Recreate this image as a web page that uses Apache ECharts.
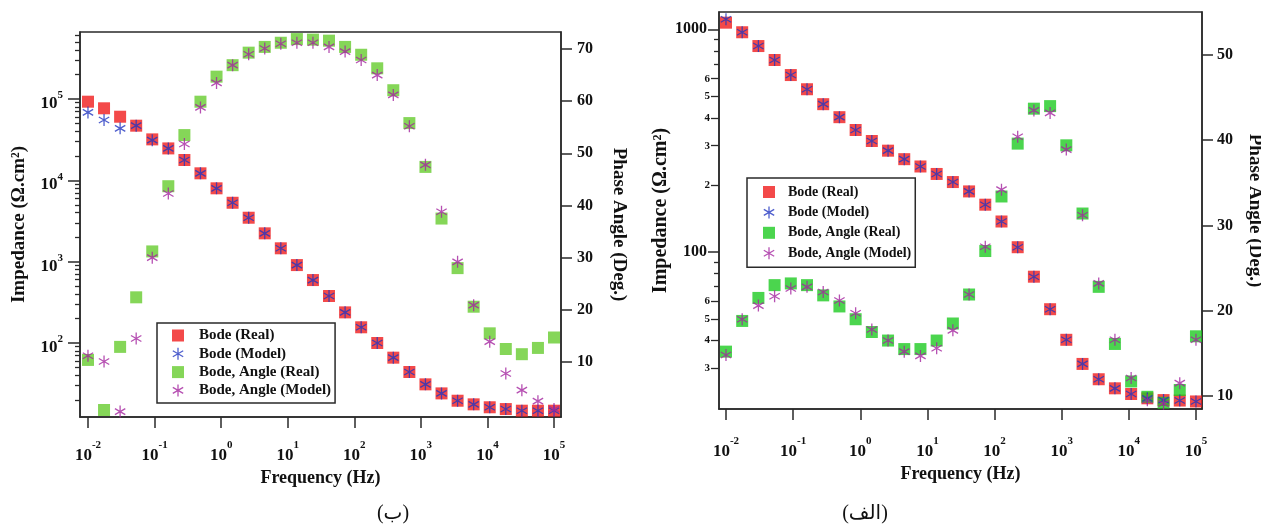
<!DOCTYPE html>
<html><head><meta charset="utf-8">
<script src="https://cdn.jsdelivr.net/npm/echarts@6/dist/echarts.min.js"></script>
<style>html,body{margin:0;padding:0;background:#fff}#c{width:1261px;height:527px}</style>
</head><body><div id="c"></div>
<script>
// ---------- data ----------
const freqs = [0.01, 0.01743, 0.03039, 0.05298, 0.09237, 0.1610, 0.2807, 0.4894, 0.8532, 1.487,
  2.593, 4.520, 7.880, 13.74, 23.95, 41.75, 72.79, 126.9, 221.2, 385.7,
  672.3, 1172, 2043, 3562, 6210, 10826, 18874, 32903, 57362, 100000];

// left chart (ب)
const leftImpReal = [92700, 76900, 60600, 47000, 31900, 24700, 17800, 12200, 7980, 5300,
  3470, 2230, 1460, 908, 594, 378, 238, 156, 100, 66,
  44, 31, 24, 19.5, 17.6, 16.2, 15.4, 14.7, 14.7, 14.7];
const leftImpModel = [68500, 55200, 43600, 47000, 31200, 24700, 17800, 12200, 7980, 5300,
  3470, 2230, 1460, 908, 594, 378, 238, 156, 100, 66,
  44, 31, 24, 19.5, 17.6, 16.2, 15.4, 14.7, 14.7, 14.7];
const leftPhaseReal = [10.4, 0.8, 12.9, 22.4, 31.2, 43.7, 53.5, 59.9, 64.7, 66.9,
  69.3, 70.4, 71.2, 71.9, 71.8, 71.6, 70.4, 68.9, 66.3, 62.1,
  55.8, 47.4, 37.5, 28.0, 20.6, 15.5, 12.5, 11.5, 12.7, 14.7];
const leftPhaseModel = [11.2, 10.1, 0.5, 14.5, 30.0, 42.3, 51.8, 58.8, 63.5, 66.9,
  69.0, 70.1, 71.0, 71.2, 71.2, 70.4, 69.5, 67.9, 65.0, 61.2,
  55.2, 47.8, 38.8, 29.2, 20.9, 13.9, 7.8, 4.6, 2.5, 1.0];

// right chart (الف)
const rightImpReal = [1071, 970, 841, 728, 623, 538, 461, 403, 353, 315,
  285, 261, 242, 224, 206, 187, 163, 137, 105, 77.4,
  55.3, 40.3, 31.4, 26.8, 24.4, 23.0, 22.0, 21.6, 21.5, 21.3];
const rightImpModel = [1110, 970, 841, 728, 623, 538, 461, 403, 353, 315,
  285, 261, 242, 224, 206, 187, 163, 137, 105, 77.4,
  55.3, 40.3, 31.4, 26.8, 24.4, 23.0, 22.0, 21.6, 21.5, 21.3];
const rightPhaseReal = [15.2, 18.8, 21.5, 23.0, 23.2, 23.0, 21.8, 20.5, 19.0, 17.5,
  16.5, 15.5, 15.5, 16.5, 18.5, 21.9, 27.0, 33.4, 39.6, 43.7,
  44.0, 39.4, 31.4, 22.8, 16.1, 11.7, 9.9, 9.2, 10.7, 17.0];
const rightPhaseModel = [14.8, 19.0, 20.6, 21.7, 22.6, 22.8, 22.2, 21.2, 19.7, 17.8,
  16.5, 15.2, 14.7, 15.6, 17.7, 21.9, 27.5, 34.2, 40.4, 43.5,
  43.2, 38.9, 31.2, 23.2, 16.6, 12.1, 9.5, 9.1, 11.5, 16.6];

// tick values
const xTickValues = [0.01, 0.1, 1, 10, 100, 1000, 10000, 100000];
const leftImpMajor = [100, 1000, 10000, 100000];
const leftImpMinor = [20, 30, 40, 50, 60, 70, 80, 90,
  200, 300, 400, 500, 600, 700, 800, 900,
  2000, 3000, 4000, 5000, 6000, 7000, 8000, 9000,
  20000, 30000, 40000, 50000, 60000, 70000, 80000, 90000,
  200000, 300000, 400000, 500000, 600000];
const leftPhaseTicks = [10, 20, 30, 40, 50, 60, 70];
const rightImpMajor = [100, 1000];
const rightImpMid = [30, 40, 50, 60, 200, 300, 400, 500, 600];
const rightImpMinor = [70, 80, 90, 700, 800, 900];
const rightPhaseTicks = [10, 20, 30, 40, 50];

const seriesNames = ['Bode (Real)', 'Bode (Model)', 'Bode, Angle (Real)', 'Bode, Angle (Model)'];

// ---------- style ----------
const FONT = "'Liberation Serif', 'Times New Roman', serif";
const RED = '#f01c1c', BLUE = '#2236c0', GREEN_L = '#66cc2e', GREEN_R = '#1ecb22', PURPLE = '#a4249f';
const STAR = 'path://M0,-1L0,1M-0.866,-0.5L0.866,0.5M-0.866,0.5L0.866,-0.5';
const SQUARE = 'path://M0,0L10,0L10,10L0,10Z';
const AX = '#2a2a2a';

const pairs = arr => freqs.map((f, i) => [f, arr[i]]);
const expFmt = v => '{b|10}{s|' + Math.round(Math.log10(v)) + '}';
const powRich = (big, small, raise) => ({
  b: {fontFamily: FONT, fontWeight: 'bold', fontSize: big, color: '#111'},
  s: {fontFamily: FONT, fontWeight: 'bold', fontSize: small, color: '#111', padding: [0, 0, raise, 0]}
});

function xAxis(gridIndex, min, max, margin, nameGap) {
  return {
    type: 'log', logBase: 10, gridIndex, min, max,
    name: 'Frequency (Hz)', nameLocation: 'middle', nameGap,
    nameTextStyle: {fontFamily: FONT, fontWeight: 'bold', fontSize: 18, color: '#111'},
    axisLine: {show: true, onZero: false, lineStyle: {color: AX, width: 1.5}},
    axisTick: {show: true, inside: false, length: 11, customValues: xTickValues, lineStyle: {color: AX, width: 1.5}},
    axisLabel: {show: true, customValues: xTickValues, margin, formatter: expFmt, rich: powRich(17, 11, 20)},
    splitLine: {show: false}, minorTick: {show: false}, minorSplitLine: {show: false}
  };
}
function tickOnlyAxis(gridIndex, type, min, max, ticks, len, position) {
  return {
    type, gridIndex, min, max, position,
    axisLine: {show: false, onZero: false},
    axisTick: {show: true, inside: false, length: len, customValues: ticks, lineStyle: {color: AX, width: 1.3}},
    axisLabel: {show: false},
    splitLine: {show: false}, minorTick: {show: false}
  };
}
function nameStyle(size) {
  return {fontFamily: FONT, fontWeight: 'bold', fontSize: size, color: '#111'};
}

const option = {
  animation: false,
  backgroundColor: '#fff',
  grid: [
    {left: 80, top: 32, width: 481, height: 385, show: true, borderColor: AX, borderWidth: 1.5, containLabel: false, outerBoundsMode: 'none'},
    {left: 719, top: 12, width: 483, height: 397, show: true, borderColor: AX, borderWidth: 1.5, containLabel: false, outerBoundsMode: 'none'}
  ],
  xAxis: [
    xAxis(0, 0.00759, 127350, 23, 46),
    xAxis(1, 0.00787, 123000, 27, 52)
  ],
  yAxis: [
    // 0: left chart impedance (major)
    {
      type: 'log', logBase: 10, gridIndex: 0, position: 'left', min: 12.3, max: 667000,
      name: 'Impedance (Ω.cm²)', nameLocation: 'middle', nameGap: 51, nameRotate: 90,
      nameTextStyle: nameStyle(19),
      axisLine: {show: true, onZero: false, lineStyle: {color: AX, width: 1.5}},
      axisTick: {show: true, inside: false, length: 12, customValues: leftImpMajor, lineStyle: {color: AX, width: 1.5}},
      axisLabel: {show: true, customValues: leftImpMajor, margin: 17, formatter: expFmt, rich: powRich(17, 11, 16), padding: [9, 0, 0, 0]},
      splitLine: {show: false}, minorTick: {show: false}
    },
    // 1: left chart impedance minor ticks
    tickOnlyAxis(0, 'log', 12.3, 667000, leftImpMinor, 5, 'left'),
    // 2: left chart phase
    {
      type: 'value', gridIndex: 0, position: 'right', min: -0.54, max: 73.26,
      name: 'Phase Angle (Deg.)', nameLocation: 'middle', nameGap: 48, nameRotate: -90,
      nameTextStyle: nameStyle(19),
      axisLine: {show: true, onZero: false, lineStyle: {color: AX, width: 1.5}},
      axisTick: {show: true, inside: false, length: 11, customValues: leftPhaseTicks, lineStyle: {color: AX, width: 1.5}},
      axisLabel: {show: true, customValues: leftPhaseTicks, margin: 16, fontFamily: FONT, fontWeight: 'bold', fontSize: 16, color: '#111'},
      splitLine: {show: false}
    },
    // 3: right chart impedance major
    {
      type: 'log', logBase: 10, gridIndex: 1, position: 'left', min: 19.7, max: 1196,
      name: 'Impedance (Ω.cm²)', nameLocation: 'middle', nameGap: 46, nameRotate: 90,
      nameTextStyle: nameStyle(20),
      axisLine: {show: true, onZero: false, lineStyle: {color: AX, width: 1.5}},
      axisTick: {show: true, inside: false, length: 11, customValues: rightImpMajor, lineStyle: {color: AX, width: 1.5}},
      axisLabel: {show: true, customValues: rightImpMajor, margin: 12, formatter: v => String(Math.round(v)),
        fontFamily: FONT, fontWeight: 'bold', fontSize: 16, color: '#111'},
      splitLine: {show: false}, minorTick: {show: false}
    },
    // 4: right chart impedance mid ticks with digit labels
    {
      type: 'log', logBase: 10, gridIndex: 1, position: 'left', min: 19.7, max: 1196,
      axisLine: {show: false, onZero: false},
      axisTick: {show: true, inside: false, length: 8, customValues: rightImpMid, lineStyle: {color: AX, width: 1.3}},
      axisLabel: {show: true, customValues: rightImpMid, margin: 9,
        formatter: v => String(Math.round(v / Math.pow(10, Math.floor(Math.log10(v) + 1e-9)))),
        fontFamily: FONT, fontWeight: 'bold', fontSize: 11, color: '#111'},
      splitLine: {show: false}, minorTick: {show: false}
    },
    // 5: right chart impedance minor ticks
    tickOnlyAxis(1, 'log', 19.7, 1196, rightImpMinor, 5, 'left'),
    // 6: right chart phase
    {
      type: 'value', gridIndex: 1, position: 'right', min: 8.47, max: 55.04,
      name: 'Phase Angle (Deg.)', nameLocation: 'middle', nameGap: 43, nameRotate: -90,
      nameTextStyle: nameStyle(19),
      axisLine: {show: true, onZero: false, lineStyle: {color: AX, width: 1.5}},
      axisTick: {show: true, inside: false, length: 11, customValues: rightPhaseTicks, lineStyle: {color: AX, width: 1.5}},
      axisLabel: {show: true, customValues: rightPhaseTicks, margin: 15, fontFamily: FONT, fontWeight: 'bold', fontSize: 16, color: '#111'},
      splitLine: {show: false}
    }
  ],
  legend: [
    {
      left: 157, top: 323, orient: 'vertical', padding: [5, 4, 5, 15],
      itemWidth: 32, itemHeight: 12, itemGap: 3.3, symbolKeepAspect: true,
      borderColor: AX, borderWidth: 1.5, selectedMode: false,
      textStyle: {fontFamily: FONT, fontWeight: 'bold', fontSize: 15, color: '#111'},
      data: [
        {name: seriesNames[0], icon: SQUARE, itemStyle: {color: RED}},
        {name: seriesNames[1], icon: STAR, itemStyle: {color: BLUE, borderColor: BLUE, borderWidth: 1.3}},
        {name: seriesNames[2], icon: SQUARE, itemStyle: {color: GREEN_L}},
        {name: seriesNames[3], icon: STAR, itemStyle: {color: PURPLE, borderColor: PURPLE, borderWidth: 1.3}}
      ]
    },
    {
      left: 747, top: 178, orient: 'vertical', padding: [7, 4, 7, 16],
      itemWidth: 28, itemHeight: 12, itemGap: 6.4, symbolKeepAspect: true,
      borderColor: AX, borderWidth: 1.5, selectedMode: false,
      textStyle: {fontFamily: FONT, fontWeight: 'bold', fontSize: 14, color: '#111'},
      data: [
        {name: seriesNames[0], icon: SQUARE, itemStyle: {color: RED}},
        {name: seriesNames[1], icon: STAR, itemStyle: {color: BLUE, borderColor: BLUE, borderWidth: 1.3}},
        {name: seriesNames[2], icon: SQUARE, itemStyle: {color: GREEN_R}},
        {name: seriesNames[3], icon: STAR, itemStyle: {color: PURPLE, borderColor: PURPLE, borderWidth: 1.3}}
      ]
    }
  ],
  graphic: [
    {type: 'text', x: 393, y: 514, style: {text: '(ب)', fill: '#111', font: "20px 'Liberation Serif', 'DejaVu Sans', serif", textAlign: 'center', textVerticalAlign: 'middle'}},
    {type: 'text', x: 865, y: 514, style: {text: '(الف)', fill: '#111', font: "20px 'Liberation Serif', 'DejaVu Sans', serif", textAlign: 'center', textVerticalAlign: 'middle'}}
  ],
  series: []
};

function addChart(xi, yImp, yPh, impReal, impModel, phReal, phModel, green) {
  const sq = (name, yIdx, data, color) => ({
    type: 'scatter', name, xAxisIndex: xi, yAxisIndex: yIdx, data: pairs(data),
    symbol: 'rect', symbolSize: 12, itemStyle: {color}, z: 2, silent: true
  });
  const st = (name, yIdx, data, color) => ({
    type: 'scatter', name, xAxisIndex: xi, yAxisIndex: yIdx, data: pairs(data),
    symbol: STAR, symbolKeepAspect: true, symbolSize: 12,
    itemStyle: {color, borderColor: color, borderWidth: 1.3}, z: 3, silent: true
  });
  option.series.push(
    sq(seriesNames[0], yImp, impReal, RED),
    sq(seriesNames[2], yPh, phReal, green),
    st(seriesNames[1], yImp, impModel, BLUE),
    st(seriesNames[3], yPh, phModel, PURPLE)
  );
}
addChart(0, 0, 2, leftImpReal, leftImpModel, leftPhaseReal, leftPhaseModel, GREEN_L);
addChart(1, 3, 6, rightImpReal, rightImpModel, rightPhaseReal, rightPhaseModel, GREEN_R);

const chart = echarts.init(document.getElementById('c'), null, {renderer: 'canvas'});
chart.setOption(option);
</script>
</body></html>
